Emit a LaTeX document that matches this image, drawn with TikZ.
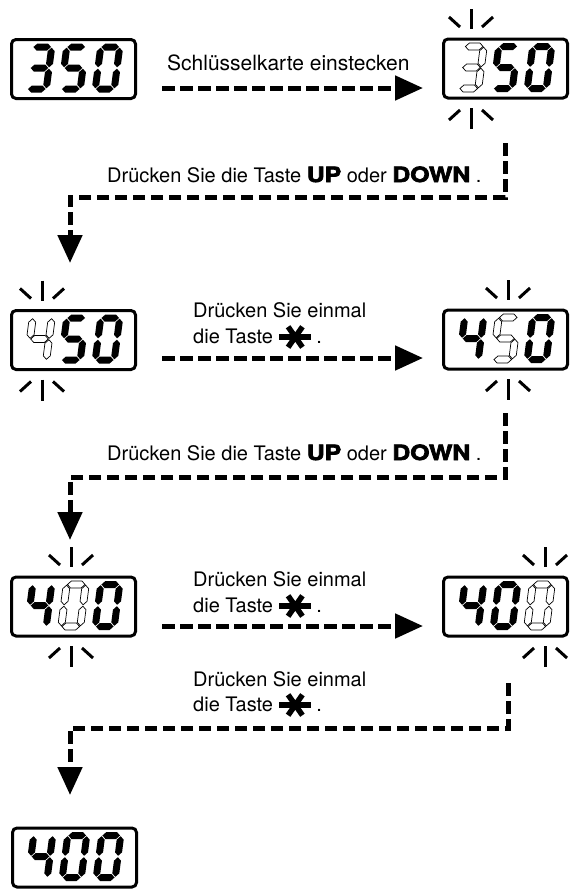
\documentclass[tikz,border=0pt]{standalone}
\usepackage{fontspec}
\usepackage{graphicx}
\setmainfont{TeX Gyre Heros}
\usetikzlibrary{arrows.meta}
\newcommand\hvy[1]{{\fontsize{21}{22}\bfseries\addfontfeature{FakeBold=3}\scalebox{1.18}[1]{#1}}}
\newcommand\lcdigit[4]{%
  \begin{scope}[shift={(#1,#2)}, xslant=0.13]
    \foreach \s in {#3} {\path[#4, sg\s];}
  \end{scope}}
\newcommand\rays[3]{%
  \draw[ray] (#1,#2-28) -- (#1,#2-8);
  \draw[ray] (#1-22,#2-20) -- (#1-11,#2-10);
  \draw[ray] (#1+22,#2-20) -- (#1+11,#2-10);
  \draw[ray] (#1,#3+8) -- (#1,#3+29);
  \draw[ray] (#1-22,#3+20) -- (#1-11,#3+10);
  \draw[ray] (#1+22,#3+20) -- (#1+11,#3+10);}
\begin{document}
\begin{tikzpicture}[x=1pt,y=-1pt,
  box/.style={draw, line width=3pt, rounded corners=4.5pt, minimum width=124pt, minimum height=59pt, inner sep=0pt, outer sep=0pt},
  ray/.style={line width=3pt},
  flow/.style={line width=5pt, dash pattern=on 12.5pt off 5.5pt, line join=miter, -{Triangle[length=28pt,width=24pt]}},
  txt/.style={font=\fontsize{20}{22}\selectfont, inner sep=0pt, anchor=base west},
  asterisk/.pic={\foreach \a/\l in {0/16,180/16,55/12.5,125/12.5,235/12.5,305/12.5} \draw[line width=5.5pt] (0,0) -- (\a:\l);},
  segon/.style={fill=black},
  segoff/.style={fill=white, draw=black, line width=0.7pt},
  sga/.style={insert path={(-8.8,-21) -- (-5.3,-24.5) -- (5.3,-24.5) -- (8.8,-21) -- (5.3,-17.5) -- (-5.3,-17.5) -- cycle}},
  sgg/.style={insert path={(-8.8,0) -- (-5.3,-3.5) -- (5.3,-3.5) -- (8.8,0) -- (5.3,3.5) -- (-5.3,3.5) -- cycle}},
  sgd/.style={insert path={(-8.8,21) -- (-5.3,17.5) -- (5.3,17.5) -- (8.8,21) -- (5.3,24.5) -- (-5.3,24.5) -- cycle}},
  sgf/.style={insert path={(-9.5,-20.3) -- (-6,-16.8) -- (-6,-4.2) -- (-9.5,-0.7) -- (-13,-4.2) -- (-13,-16.8) -- cycle}},
  sgb/.style={insert path={(9.5,-20.3) -- (13,-16.8) -- (13,-4.2) -- (9.5,-0.7) -- (6,-4.2) -- (6,-16.8) -- cycle}},
  sge/.style={insert path={(-9.5,0.7) -- (-6,4.2) -- (-6,16.8) -- (-9.5,20.3) -- (-13,16.8) -- (-13,4.2) -- cycle}},
  sgc/.style={insert path={(9.5,0.7) -- (13,4.2) -- (13,16.8) -- (9.5,20.3) -- (6,16.8) -- (6,4.2) -- cycle}}
]
\useasboundingbox (0,0) rectangle (570,889);

% displays
\node[box] (d1) at (73.5,69) {};
\node[box] (d2) at (505.5,68.5) {};
\node[box] (d3) at (73.5,340) {};
\node[box] (d4) at (505.5,339.5) {};
\node[box] (d5) at (73.5,606.5) {};
\node[box] (d6) at (505.5,606.5) {};
\node[box] (d7) at (74.5,857.5) {};

% D1: 350
\lcdigit{39.5}{68}{a,b,c,d,g}{segon}
\lcdigit{73.5}{68}{a,c,d,f,g}{segon}
\lcdigit{107.5}{68}{a,b,c,d,e,f}{segon}
% D2: 350, 3 blinking
\lcdigit{471.5}{67.5}{a,b,c,d,g}{segoff}
\lcdigit{505.5}{67.5}{a,c,d,f,g}{segon}
\lcdigit{539.5}{67.5}{a,b,c,d,e,f}{segon}
\rays{471}{37}{100}
% D3: 450, 4 blinking
\lcdigit{39.5}{339}{b,c,f,g}{segoff}
\lcdigit{73.5}{339}{a,c,d,f,g}{segon}
\lcdigit{107.5}{339}{a,b,c,d,e,f}{segon}
\rays{42}{308.5}{371.5}
% D4: 450, 5 blinking
\lcdigit{471.5}{338.5}{b,c,f,g}{segon}
\lcdigit{505.5}{338.5}{a,c,d,f,g}{segoff}
\lcdigit{539.5}{338.5}{a,b,c,d,e,f}{segon}
\rays{508}{308}{371}
% D5: 400, middle blinking
\lcdigit{39.5}{605.5}{b,c,f,g}{segon}
\lcdigit{73.5}{605.5}{a,b,c,d,e,f}{segoff}
\lcdigit{107.5}{605.5}{a,b,c,d,e,f}{segon}
\rays{71}{575}{638}
% D6: 400, last blinking
\lcdigit{471.5}{605.5}{b,c,f,g}{segon}
\lcdigit{505.5}{605.5}{a,b,c,d,e,f}{segon}
\lcdigit{539.5}{605.5}{a,b,c,d,e,f}{segoff}
\rays{545}{575}{638}
% D7: 400
\lcdigit{40.5}{856.5}{b,c,f,g}{segon}
\lcdigit{74.5}{856.5}{a,b,c,d,e,f}{segon}
\lcdigit{108.5}{856.5}{a,b,c,d,e,f}{segon}

% texts
\node[txt, font=\fontsize{21}{22}\selectfont] (t1) at (167,70) {Schlüsselkarte einstecken};
\node[txt] (t2) at (107,182) {Drücken Sie die Taste \hvy{UP} oder \hvy{DOWN} .};
\node[txt] (t3a) at (193,317) {Drücken Sie einmal};
\node[txt] (t3b) at (193,343) {die Taste};
\pic at ([xshift=22pt,yshift=6pt]t3b.base east) {asterisk};
\node[txt] (t3c) at ([xshift=43pt]t3b.base east) {.};
\node[txt] (t4) at (107,460) {Drücken Sie die Taste \hvy{UP} oder \hvy{DOWN} .};
\node[txt] (t5a) at (193,586) {Drücken Sie einmal};
\node[txt] (t5b) at (193,612) {die Taste};
\pic at ([xshift=22pt,yshift=6pt]t5b.base east) {asterisk};
\node[txt] (t5c) at ([xshift=43pt]t5b.base east) {.};
\node[txt] (t6a) at (193,686) {Drücken Sie einmal};
\node[txt] (t6b) at (193,711) {die Taste};
\pic at ([xshift=22pt,yshift=6pt]t6b.base east) {asterisk};
\node[txt] (t6c) at ([xshift=43pt]t6b.base east) {.};

% connectors
\coordinate (a1s) at (162,88);
\coordinate (a1e) at (423,88);
\draw[flow] (a1s) -- (a1e);

\coordinate (a2s) at (505,143);
\coordinate (a2m) at (505,197);
\coordinate (a2n) at (70,197);
\coordinate (a2e) at (70,263);
\draw[flow] (a2s) -- (a2m) -- (a2n) -- (a2e);

\coordinate (a3s) at (162,358);
\coordinate (a3e) at (423,358);
\draw[flow] (a3s) -- (a3e);

\coordinate (a4s) at (505,413);
\coordinate (a4m) at (505,477);
\coordinate (a4n) at (70,477);
\coordinate (a4e) at (70,540);
\draw[flow] (a4s) -- (a4m) -- (a4n) -- (a4e);

\coordinate (a5s) at (162,626);
\coordinate (a5e) at (423,626);
\draw[flow] (a5s) -- (a5e);

\coordinate (a6s) at (508,683);
\coordinate (a6m) at (508,728);
\coordinate (a6n) at (70,728);
\coordinate (a6e) at (70,795);
\draw[flow] (a6s) -- (a6m) -- (a6n) -- (a6e);
\end{tikzpicture}
\end{document}
